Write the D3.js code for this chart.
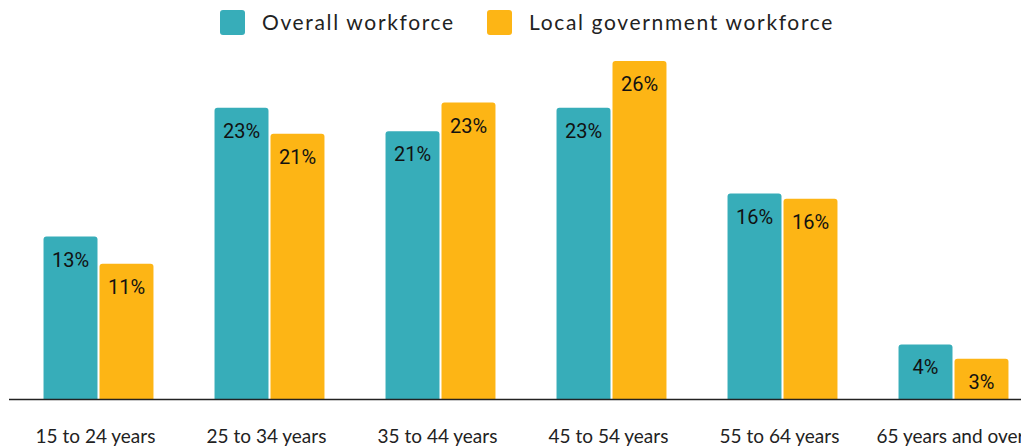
<!DOCTYPE html>
<meta charset="utf-8">
<style>
  body { margin: 0; background: #fff; }
  .legend text { font-family: Lato, sans-serif; font-size: 21px; letter-spacing: 1.65px; fill: #222; }
  .cat { font-family: Lato, sans-serif; font-size: 19px; fill: #222; text-anchor: middle; }
  .val { font-family: Roboto, sans-serif; font-size: 20px; fill: #111; text-anchor: middle; }
</style>
<svg width="1021" height="446"></svg>
<script src="https://d3js.org/d3.v7.min.js"></script>
<script>
var svg = d3.select("svg"),
    width = +svg.attr("width"),
    height = +svg.attr("height");

// Data
var categories = ["15 to 24 years", "25 to 34 years", "35 to 44 years", "45 to 54 years", "55 to 64 years", "65 years and over"];
var seriesNames = ["Overall workforce", "Local government workforce"];
var colors = ["#37adb9", "#fdb515"];
var overall = [12.5, 22.4, 20.6, 22.4, 15.8, 4.2];
var localGov = [10.4, 20.4, 22.8, 26.0, 15.4, 3.1];
var overallLabels = ["13%", "23%", "21%", "23%", "16%", "4%"];
var localLabels = ["11%", "21%", "23%", "26%", "16%", "3%"];

var values = [overall, localGov];
var labels = [overallLabels, localLabels];

var baseY = 399;

var x0 = d3.scaleBand()
    .domain(categories)
    .range([13, 13 + 171 * 6])
    .paddingInner(0.357)
    .paddingOuter(0.1785);

var x1 = d3.scaleBand()
    .domain(d3.range(seriesNames.length))
    .range([0, x0.bandwidth()])
    .paddingInner(0.036);

var y = d3.scaleLinear()
    .domain([0, 26])
    .range([baseY, 61]);

// bar with rounded top corners
function barPath(x, y0, w, h, r) {
  return "M" + x + "," + (y0 + h) +
    "V" + (y0 + r) +
    "Q" + x + "," + y0 + " " + (x + r) + "," + y0 +
    "H" + (x + w - r) +
    "Q" + (x + w) + "," + y0 + " " + (x + w) + "," + (y0 + r) +
    "V" + (y0 + h) + "Z";
}

var groups = svg.append("g").selectAll("g")
  .data(categories)
  .enter().append("g")
    .attr("transform", function(d) { return "translate(" + x0(d) + ",0)"; });

function rows(d, i) {
  return values.map(function(v, s) { return {s: s, v: v[i], label: labels[s][i]}; });
}

groups.selectAll("path")
  .data(rows)
  .enter().append("path")
    .attr("fill", function(d) { return colors[d.s]; })
    .attr("d", function(d) {
      return barPath(x1(d.s), y(d.v), x1.bandwidth(), baseY - y(d.v), 3);
    });

groups.selectAll("text.val")
  .data(rows)
  .enter().append("text")
    .attr("class", "val")
    .attr("x", function(d) { return x1(d.s) + x1.bandwidth() / 2; })
    .attr("y", function(d) { return y(d.v) + 30; })
    .text(function(d) { return d.label; });

// baseline
svg.append("line")
    .attr("x1", 9).attr("x2", width)
    .attr("y1", baseY + 0.5).attr("y2", baseY + 0.5)
    .attr("stroke", "#222")
    .attr("stroke-width", 1.5);

// category labels (last one runs off the right edge, as in the original)
svg.append("g").selectAll("text")
  .data(categories)
  .enter().append("text")
    .attr("class", "cat")
    .attr("x", function(d) { return x0(d) + x0.bandwidth() / 2 - 3; })
    .attr("y", 443)
    .text(function(d) { return d; });

// legend
var legendX = [220, 487];
var legend = svg.append("g").attr("class", "legend")
  .selectAll("g")
  .data(seriesNames)
  .enter().append("g")
    .attr("transform", function(d, i) { return "translate(" + legendX[i] + ",10)"; });
legend.append("rect")
    .attr("width", 25).attr("height", 25)
    .attr("rx", 3)
    .attr("fill", function(d, i) { return colors[i]; });
legend.append("text")
    .attr("x", 42)
    .attr("y", 19.5)
    .text(function(d) { return d; });
</script>
